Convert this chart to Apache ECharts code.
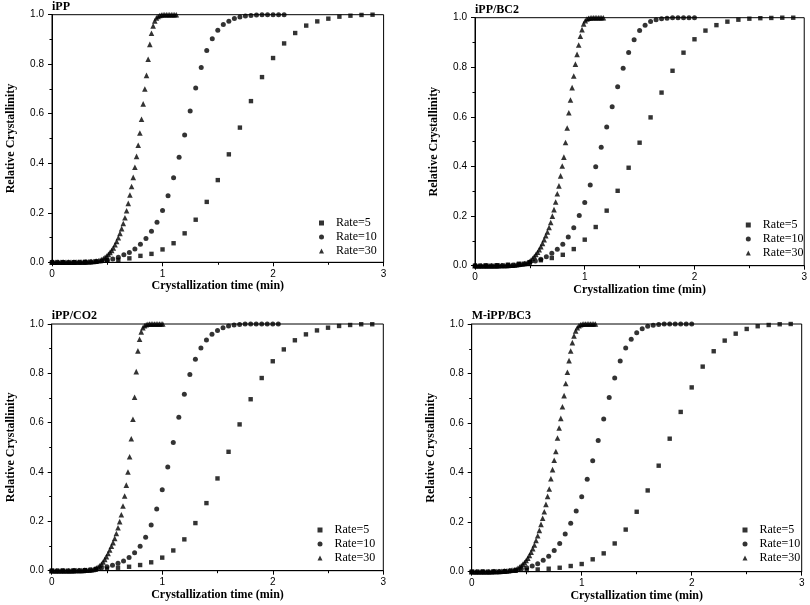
<!DOCTYPE html>
<html>
<head>
<meta charset="utf-8">
<script src="https://cdn.jsdelivr.net/npm/echarts@6/dist/echarts.min.js"></script>
<style>html,body{margin:0;padding:0;background:#fff;}#c{width:810px;height:605px;}</style>
</head>
<body>
<div id="c"></div>
<script>
// ---- shared x sampling (min) ----
const sqX = [0,0.1,0.2,0.3,0.4,0.5,0.6,0.7,0.8,0.9,1.0,1.1,1.2,1.3,1.4,1.5,1.6,1.7,1.8,1.9,2.0,2.1,2.2,2.3,2.4,2.5,2.6,2.7,2.8,2.9];
const ciX = [0,0.05,0.1,0.15,0.2,0.25,0.3,0.35,0.4,0.45,0.5,0.55,0.6,0.65,0.7,0.75,0.8,0.85,0.9,0.95,1.0,1.05,1.1,1.15,1.2,1.25,1.3,1.35,1.4,1.45,1.5,1.55,1.6,1.65,1.7,1.75,1.8,1.85,1.9,1.95,2.0,2.05,2.1];
const trX = [0,0.015,0.03,0.045,0.06,0.075,0.09,0.105,0.12,0.135,0.15,0.165,0.18,0.195,0.21,0.225,0.24,0.255,0.27,0.285,0.3,0.315,0.33,0.345,0.36,0.375,0.39,0.405,0.42,0.435,0.45,0.465,0.48,0.495,0.51,0.525,0.54,0.555,0.57,0.585,0.6,0.615,0.63,0.645,0.66,0.675,0.69,0.705,0.72,0.735,0.75,0.765,0.78,0.795,0.81,0.825,0.84,0.855,0.87,0.885,0.9,0.915,0.93,0.945,0.96,0.975,0.99,1.005,1.02,1.035,1.05,1.065,1.08,1.095,1.11,1.125,1.14,1.155,1.17];

const panelTitles = ['iPP','iPP/BC2','iPP/CO2','M-iPP/BC3'];
const seriesNames = ['Rate=5','Rate=10','Rate=30'];
const xTicks = ['0','1','2','3'];
const yTicks = ['0.0','0.2','0.4','0.6','0.8','1.0'];

// ---- panel 1: iPP ----
const p1Rate5 = [0,0,0,0.001,0.003,0.006,0.01,0.016,0.026,0.034,0.052,0.077,0.117,0.172,0.244,0.332,0.436,0.544,0.651,0.748,0.825,0.884,0.926,0.956,0.973,0.984,0.992,0.996,0.999,1.0];
const p1Rate10 = [0,0,0,0,0,0,0.001,0.002,0.003,0.005,0.008,0.013,0.02,0.03,0.04,0.054,0.073,0.096,0.125,0.162,0.209,0.269,0.341,0.424,0.514,0.611,0.704,0.787,0.855,0.903,0.937,0.96,0.974,0.985,0.991,0.995,0.997,0.999,1,1,1,1,1];
const p1Rate30 = [0,0,0,0,0,0,0,0,0,0,0,0,0,0,0,0.001,0.001,0.001,0.001,0.001,0.001,0.002,0.002,0.002,0.003,0.003,0.004,0.005,0.006,0.008,0.011,0.015,0.020,0.025,0.032,0.040,0.048,0.058,0.071,0.084,0.099,0.117,0.136,0.157,0.180,0.208,0.238,0.272,0.306,0.343,0.384,0.428,0.473,0.522,0.578,0.640,0.700,0.755,0.820,0.880,0.925,0.955,0.975,0.987,0.993,0.997,0.999,1,1,1,1,1,1,1,1,1];

// ---- panel 2: iPP/BC2 ----
const p2Rate5 = [0,0.001,0.002,0.004,0.008,0.014,0.022,0.031,0.044,0.067,0.105,0.156,0.222,0.302,0.395,0.496,0.598,0.698,0.786,0.859,0.913,0.948,0.970,0.984,0.992,0.996,0.998,0.999,1,1];
const p2Rate10 = [0,0,0,0,0,0.001,0.002,0.003,0.005,0.008,0.013,0.019,0.026,0.036,0.05,0.066,0.086,0.116,0.153,0.202,0.255,0.325,0.399,0.478,0.559,0.641,0.722,0.796,0.86,0.911,0.948,0.97,0.985,0.992,0.996,0.998,1,1,1,1,1];
const p2Rate30 = [0,0,0,0,0,0,0,0,0,0,0,0,0,0,0,0.001,0.001,0.001,0.001,0.001,0.001,0.002,0.002,0.002,0.003,0.004,0.005,0.006,0.007,0.008,0.009,0.010,0.013,0.017,0.022,0.029,0.037,0.045,0.054,0.065,0.077,0.090,0.105,0.121,0.136,0.154,0.174,0.200,0.226,0.257,0.290,0.322,0.362,0.402,0.438,0.497,0.555,0.617,0.668,0.718,0.765,0.813,0.852,0.890,0.925,0.952,0.975,0.988,0.995,0.998,0.999,1,1,1,1,1,1,1,1];

// ---- panel 3: iPP/CO2 ----
const p3Rate5 = [0,0,0.001,0.002,0.005,0.008,0.012,0.016,0.023,0.034,0.053,0.082,0.127,0.193,0.274,0.374,0.482,0.593,0.695,0.781,0.849,0.897,0.934,0.958,0.974,0.985,0.992,0.996,0.999,0.999];
const p3Rate10 = [0,0,0,0,0,0.001,0.002,0.004,0.007,0.011,0.016,0.022,0.03,0.039,0.054,0.073,0.099,0.136,0.185,0.25,0.328,0.42,0.52,0.622,0.715,0.795,0.857,0.903,0.935,0.958,0.974,0.985,0.992,0.996,0.998,1,1,1,1,1,1,1];
const p3Rate30 = [0,0,0,0,0,0,0,0,0,0,0,0,0,0,0.001,0.001,0.001,0.001,0.001,0.001,0.002,0.002,0.003,0.003,0.004,0.005,0.007,0.011,0.015,0.020,0.027,0.035,0.046,0.057,0.070,0.084,0.099,0.114,0.131,0.151,0.174,0.199,0.227,0.262,0.303,0.347,0.400,0.462,0.535,0.614,0.703,0.807,0.891,0.938,0.968,0.985,0.993,0.997,0.999,1,1,1,1,1,1,1,1,1];

// ---- panel 4: M-iPP/BC3 ----
const p4Rate5 = [0,0,0.001,0.002,0.004,0.007,0.009,0.012,0.016,0.023,0.031,0.05,0.074,0.114,0.17,0.242,0.328,0.428,0.537,0.645,0.744,0.828,0.89,0.933,0.961,0.98,0.991,0.996,0.999,1];
const p4Rate10 = [0,0,0,0,0,0.001,0.002,0.004,0.006,0.01,0.016,0.023,0.032,0.046,0.062,0.086,0.114,0.152,0.196,0.245,0.303,0.373,0.448,0.53,0.616,0.703,0.782,0.851,0.903,0.938,0.965,0.981,0.991,0.995,0.998,1,1,1,1,1,1];
const p4Rate30 = [0,0,0,0,0,0,0,0,0,0,0,0,0,0.001,0.001,0.001,0.001,0.001,0.002,0.002,0.003,0.003,0.004,0.005,0.006,0.007,0.008,0.010,0.014,0.019,0.024,0.030,0.037,0.045,0.055,0.066,0.079,0.093,0.108,0.126,0.145,0.167,0.191,0.216,0.242,0.272,0.304,0.334,0.375,0.412,0.450,0.485,0.540,0.580,0.619,0.666,0.711,0.760,0.805,0.852,0.891,0.925,0.952,0.972,0.985,0.993,0.997,0.999,1,1,1,1,1,1,1,1];

const panelData = [
  [p1Rate5, p1Rate10, p1Rate30],
  [p2Rate5, p2Rate10, p2Rate30],
  [p3Rate5, p3Rate10, p3Rate30],
  [p4Rate5, p4Rate10, p4Rate30]
];

// ---- layout ----
const grids = [
  {left: 52, top: 14.7, width: 331.6, height: 247.6},
  {left: 475, top: 17.7, width: 330, height: 248},
  {left: 51.7, top: 324, width: 331.6, height: 246.7},
  {left: 471.7, top: 324, width: 330, height: 247.7}
];
const legendPos = [
  {left: 319, top: 216},
  {left: 745.8, top: 218},
  {left: 317.5, top: 523},
  {left: 742.5, top: 523}
];
const titlePos = [
  {left: 52, top: 1},
  {left: 475, top: 4},
  {left: 51.7, top: 310},
  {left: 471.7, top: 310}
];

const serif = '"Liberation Serif","Times New Roman",serif';
const sans = '"Liberation Sans",Arial,sans-serif';
const xs = [sqX, ciX, trX];
const symbols = ['rect','circle','triangle'];
const symSizes = [4.4, 5, 5.6];

const option = {
  animation: false,
  backgroundColor: '#fff',
  title: panelTitles.map((t, i) => ({
    text: t, left: titlePos[i].left, top: titlePos[i].top, padding: 0,
    textStyle: {fontFamily: serif, fontWeight: 'bold', fontSize: 12, color: '#000'}
  })),
  legend: legendPos.map((p) => ({
    left: p.left, top: p.top, orient: 'vertical', padding: 0,
    itemWidth: 5, itemHeight: 5, itemGap: 0,
    selectedMode: false,
    data: seriesNames.map((n, j) => ({name: n, icon: symbols[j]})),
    textStyle: {fontFamily: serif, fontSize: 12, color: '#000', lineHeight: 14, padding: [0,0,0,7]}
  })),
  grid: grids.map(g => Object.assign({show: true, borderColor: '#000', borderWidth: 1, backgroundColor: 'transparent'}, g)),
  xAxis: grids.map((g, i) => ({
    gridIndex: i, type: 'value', min: 0, max: 3, interval: 1,
    name: 'Crystallization time (min)', nameLocation: 'middle', nameGap: 17,
    nameTextStyle: {fontFamily: serif, fontWeight: 'bold', fontSize: 12, color: '#000'},
    axisLine: {show: true, onZero: false, lineStyle: {color: '#000', width: 1}},
    axisTick: {show: true, inside: false, length: 4, lineStyle: {color: '#000'}},
    minorTick: {show: true, splitNumber: 2, length: 2.5, lineStyle: {color: '#000'}},
    splitLine: {show: false},
    axisLabel: {margin: 7, fontFamily: sans, fontSize: 10, color: '#000', formatter: (v) => xTicks[Math.round(v)]}
  })),
  yAxis: grids.map((g, i) => ({
    gridIndex: i, type: 'value', min: 0, max: 1, interval: 0.2,
    name: 'Relative Crystallinity', nameLocation: 'middle', nameGap: 35, nameRotate: 90,
    nameTextStyle: {fontFamily: serif, fontWeight: 'bold', fontSize: 12, color: '#000'},
    axisLine: {show: true, onZero: false, lineStyle: {color: '#000', width: 1}},
    axisTick: {show: true, inside: false, length: 4, lineStyle: {color: '#000'}},
    minorTick: {show: true, splitNumber: 2, length: 2.5, lineStyle: {color: '#000'}},
    splitLine: {show: false},
    axisLabel: {margin: 8, fontFamily: sans, fontSize: 10, color: '#000', formatter: (v) => yTicks[Math.round(v * 5)]}
  })),
  series: []
};

panelData.forEach((sets, i) => {
  sets.forEach((ys, j) => {
    option.series.push({
      type: 'scatter', name: seriesNames[j], xAxisIndex: i, yAxisIndex: i,
      symbol: symbols[j], symbolSize: symSizes[j], silent: true,
      itemStyle: {color: '#000'},
      data: ys.map((y, k) => [xs[j][k], y])
    });
  });
});

const chart = echarts.init(document.getElementById('c'), null, {renderer: 'canvas'});
chart.setOption(option);
</script>
</body>
</html>
